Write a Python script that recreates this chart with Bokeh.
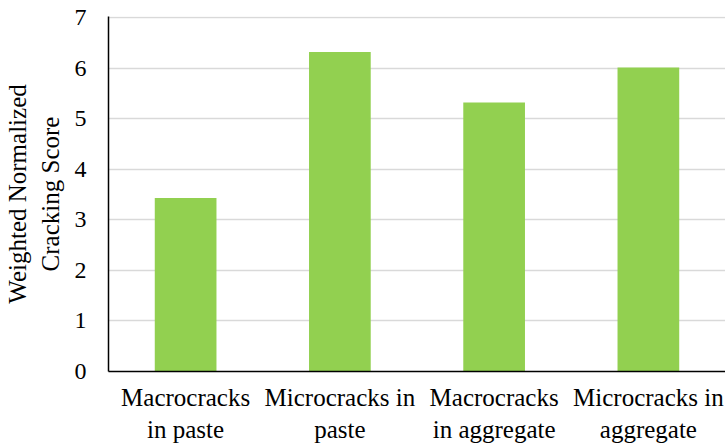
from bokeh.plotting import figure
from bokeh.models import ColumnDataSource, FixedTicker, Range1d
from bokeh.embed import file_html
from bokeh.resources import INLINE

# Crack categories and their weighted normalized cracking scores
categories = ["Macrocracks\nin paste", "Microcracks in\npaste",
              "Macrocracks\nin aggregate", "Microcracks in\naggregate"]
scores = [3.43, 6.32, 5.32, 6.01]
y_ticks = [0, 1, 2, 3, 4, 5, 6, 7]

positions = [i + 0.5 for i in range(len(categories))]
source = ColumnDataSource(data=dict(x=positions, score=scores))

# a sliver of headroom so the gridline at 7 stays inside the frame
y_top = y_ticks[-1] + 1 / 50.6

p = figure(width=725, height=446, output_backend="svg", toolbar_location=None,
           x_range=Range1d(0, len(categories)), y_range=Range1d(0, y_top),
           min_border_left=108, min_border_right=0, min_border_top=16,
           min_border_bottom=75)

p.vbar(x="x", top="score", width=0.4, source=source,
       fill_color="#92D050", line_color=None)

p.outline_line_color = None
p.background_fill_color = "white"
p.border_fill_color = "white"

# x axis: category labels under each bar
p.xaxis.ticker = FixedTicker(ticks=positions)
p.xaxis.major_label_overrides = {pos: lab for pos, lab in zip(positions, categories)}
p.xaxis.major_tick_line_color = None
p.xaxis.minor_tick_line_color = None
p.xaxis.major_tick_out = 0
p.xaxis.major_label_standoff = 12
p.xaxis.axis_line_color = "black"
p.xaxis.axis_line_width = 1.5
p.xaxis.major_label_text_font = "Liberation Serif"
p.xaxis.major_label_text_font_size = "25px"
p.xaxis.major_label_text_color = "black"
p.xgrid.grid_line_color = None

# y axis
p.yaxis.ticker = FixedTicker(ticks=y_ticks)
p.yaxis.major_tick_line_color = None
p.yaxis.minor_tick_line_color = None
p.yaxis.major_tick_out = 0
p.yaxis.major_label_standoff = 22
p.yaxis.axis_line_color = "black"
p.yaxis.axis_line_width = 1.5
p.yaxis.major_label_text_font = "serif"
p.yaxis.major_label_text_font_size = "24px"
p.yaxis.major_label_text_color = "black"
p.yaxis.axis_label = "Weighted Normalized\nCracking Score"
p.yaxis.axis_label_text_font = "Times New Roman"
p.yaxis.axis_label_text_font_size = "25px"
p.yaxis.axis_label_text_font_style = "normal"
p.yaxis.axis_label_text_color = "black"
p.yaxis.axis_label_standoff = 8
p.ygrid.grid_line_color = "#d9d9d9"
p.ygrid.grid_line_width = 1.5

open("out.html", "w").write(file_html(p, INLINE))
